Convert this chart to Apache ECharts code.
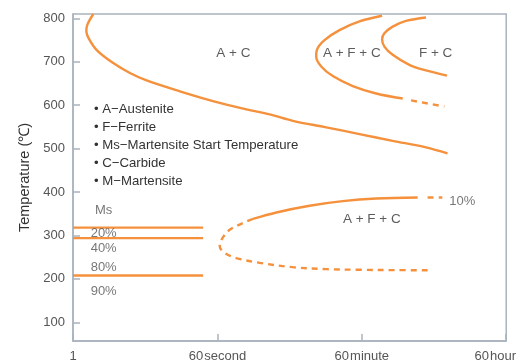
<!DOCTYPE html>
<html>
<head>
<meta charset="utf-8">
<script src="https://cdn.jsdelivr.net/npm/echarts@6/dist/echarts.min.js"></script>
<style>
  html, body { margin: 0; padding: 0; background: #ffffff; }
  #chart { width: 519px; height: 363px; }
</style>
</head>
<body>
<div id="chart"></div>
<script>
// Time is in seconds on a base-60 log axis; temperature in °C.
const timeTickLabels = { 1: '1', 60: '60\u200asecond', 3600: '60\u200aminute', 216000: '60\u200ahour' };

// Start of transformation: austenite -> carbide (upper nose)
const curveAC = [
  [1.78, 810], [1.5, 785], [1.46, 770], [1.56, 754], [1.96, 727], [3.13, 697],
  [5.02, 674], [8.05, 657], [20.7, 632], [53, 609.5], [136.5, 590.5], [264, 579],
  [510, 564], [1313, 549], [3370, 533.5], [8640, 518], [22200, 503], [40900, 489]
];
// Ferrite start curve (A+F+C region)
const curveAFC = [
  [6400, 806], [3370, 793], [1912, 773], [1250, 750], [1005, 727], [988, 712],
  [1139, 689], [1581, 667], [2785, 644], [5400, 627], [11480, 615.5]
];
const curveAFCTail = [[14550, 611], [37400, 597]];
// Finish curve (F+C region)
const curveFC = [
  [22200, 802], [12620, 794], [8640, 781], [6830, 765.5], [6400, 752], [6830, 735],
  [8640, 716], [13860, 693], [22200, 680], [40300, 668]
];
// Lower nose, 10% transformation
const curveLowSolid = [
  [164.4, 338], [319, 353], [818, 368.5], [2098, 379], [5400, 385], [17550, 387.5]
];
const curveLowTail = [[23250, 387.5], [35300, 387.5]];
const curveLowDashed = [
  [164.4, 338], [136.5, 332], [85, 313], [67.2, 290], [64.1, 275], [73.8, 260],
  [102.7, 248], [199, 237], [510, 227], [1313, 222.5], [3370, 221], [9500, 220.2], [23250, 220]
];
// Martensite levels (Ms, 40%, 90%) drawn from 1 s to 40 s
const martensiteTemps = [318, 294, 208];
const martensiteTimeRange = [1, 40];

// Region and level annotations: [time, temperature, text]
const regionLabels = [
  [94.4, 720.6, 'A + C'],
  [2710, 720.6, 'A + F + C'],
  [29200, 720.6, 'F + C'],
  [4780, 337.7, 'A + F + C']
];
const levelLabels = [
  [1.86, 358.5, 'Ms'],
  [1.65, 305.3, '20%'],
  [1.65, 269.5, '40%'],
  [1.65, 225.5, '80%'],
  [1.65, 172.3, '90%'],
  [43000, 378.3, '10%']
];
const legendLines = [
  '• A−Austenite',
  '• F−Ferrite',
  '• Ms−Martensite Start Temperature',
  '• C−Carbide',
  '• M−Martensite'
];

const ORANGE = '#f5913c';
const AXIS = '#a9b3bd';
const FONT = 'Liberation Sans, Arial, sans-serif';

function curve(data, dashed) {
  return {
    type: 'line', data: data, smooth: 0.35, symbol: 'none', silent: true,
    lineStyle: { color: ORANGE, width: 2.4, type: dashed ? [6, 5] : 'solid', cap: 'butt' }
  };
}

const series = [
  curve(curveAC), curve(curveAFC), curve(curveAFCTail, true), curve(curveFC),
  curve(curveLowSolid), curve(curveLowTail, true), curve(curveLowDashed, true)
];
martensiteTemps.forEach(function (t) {
  series.push({
    type: 'line', symbol: 'none', silent: true,
    data: [[martensiteTimeRange[0], t], [martensiteTimeRange[1], t]],
    lineStyle: { color: ORANGE, width: 2.4 }
  });
});
series.push({
  type: 'scatter', symbolSize: 0, silent: true, z: 5,
  data: regionLabels.map(function (d) { return { name: d[2], value: [d[0], d[1]] }; }),
  label: { show: true, formatter: '{b}', position: [0, 0], align: 'center', verticalAlign: 'middle',
           color: '#333', fontSize: 13.5, fontFamily: FONT }
});
series.push({
  type: 'scatter', symbolSize: 0, silent: true, z: 5,
  data: levelLabels.map(function (d) { return { name: d[2], value: [d[0], d[1]] }; }),
  label: { show: true, formatter: '{b}', position: [0, 0], align: 'left', verticalAlign: 'middle',
           color: '#555', fontSize: 13, fontFamily: FONT }
});

const chart = echarts.init(document.getElementById('chart'), null, { renderer: 'canvas' });
chart.setOption({
  animation: false,
  backgroundColor: '#ffffff',
  grid: { left: 73, right: 12, top: 14, bottom: 19, show: true, borderColor: AXIS, borderWidth: 1.5 },
  xAxis: {
    type: 'log', logBase: 60, min: 1, max: 216000,
    axisLine: { lineStyle: { color: AXIS, width: 1.5 } },
    axisTick: { inside: true, length: 7, lineStyle: { color: AXIS, width: 1.5 } },
    splitLine: { show: false },
    minorTick: { show: false },
    axisLabel: {
      margin: 9, color: '#555', fontSize: 13, fontFamily: FONT,
      formatter: function (v) {
        const k = Math.round(v);
        if (k === 216000) return '{h|' + timeTickLabels[k] + '}';
        return timeTickLabels[k] !== undefined ? timeTickLabels[k] : '';
      },
      rich: { h: { color: '#555', fontSize: 13, fontFamily: FONT, padding: [0, 22, 0, 0] } }
    }
  },
  yAxis: {
    type: 'value', min: 57, max: 810, minInterval: 100, maxInterval: 100,
    name: 'Temperature (℃)', nameLocation: 'middle', nameGap: 40, nameRotate: 90,
    nameTextStyle: { color: '#333', fontSize: 14.5, fontFamily: FONT },
    axisLine: { show: true, lineStyle: { color: AXIS, width: 1.5 } },
    axisTick: { show: true, inside: true, length: 7, lineStyle: { color: AXIS, width: 1.5 } },
    splitLine: { show: false },
    axisLabel: { margin: 8, color: '#555', fontSize: 13, fontFamily: FONT, showMinLabel: false, showMaxLabel: false }
  },
  graphic: [{
    type: 'text', left: 94, top: 100, silent: true,
    style: { text: legendLines.join('\n'), fill: '#333', font: '13.2px ' + FONT, lineHeight: 18 }
  }],
  series: series
});
</script>
</body>
</html>
